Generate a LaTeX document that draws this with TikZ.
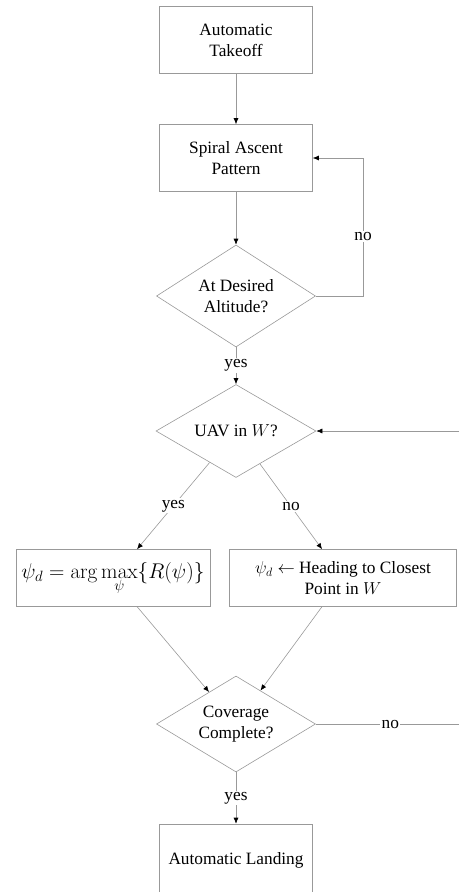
\RequirePackage{fix-cm}
\documentclass[tikz,border=0pt]{standalone}
\usepackage[no-math]{fontspec}
\setmainfont{Liberation Serif}
\usetikzlibrary{shapes.geometric,arrows.meta}
\begin{document}
\begin{tikzpicture}[x=1pt,y=-1pt,
  every node/.style={font=\fontsize{17.3}{21}\selectfont},
  stepbox/.style={draw=black!40,line width=0.6pt,rectangle,align=center,inner sep=0pt},
  decide/.style={draw=black!40,line width=0.6pt,diamond,shape aspect=1.6,align=center,inner sep=0pt},
  conn/.style={draw=black!40,line width=0.6pt,-{Latex[length=6pt,width=5pt,color=black]}},
  plain/.style={draw=black!40,line width=0.6pt},
  lbl/.style={fill=white,inner sep=1.5pt}]
\useasboundingbox (0,0) rectangle (459,892);
\node[stepbox,minimum width=153pt,minimum height=67pt] (t1) at (236,40) {Automatic\\Takeoff};
\node[stepbox,minimum width=153pt,minimum height=67pt] (t2) at (236,158) {Spiral Ascent\\Pattern};
\node[decide,minimum width=159pt,minimum height=102pt] (d1) at (236,296) {At Desired\\Altitude?};
\node[decide,minimum width=160pt,minimum height=93pt] (d2) at (236,431) {UAV in $W$?};
\node[stepbox,minimum width=194pt,minimum height=57pt,font=\fontsize{21.3}{25}\selectfont] (bl) at (113,578) {\raisebox{3pt}{$\displaystyle\psi_d = \arg\max_{\psi}\{R(\psi)\}$}};
\node[stepbox,minimum width=227pt,minimum height=57pt] (br) at (343,578) {$\psi_d \leftarrow$ Heading to Closest\\Point in $W$};
\node[decide,minimum width=159pt,minimum height=96pt] (d3) at (236,724) {Coverage\\Complete?};
\node[stepbox,minimum width=153pt,minimum height=72pt] (t4) at (236,860) {Automatic Landing};
\coordinate (loopA) at (363,296);
\coordinate (loopB) at (363,158);
\coordinate (inR) at (459,431);
\coordinate (outR) at (459,724);
\draw[conn] (t1) -- (t2);
\draw[conn] (t2) -- (d1);
\draw[plain] (d1.east) -- (loopA) -- node[lbl,pos=0.43]{no} (loopB);
\draw[conn] (loopB) -- (t2.east);
\draw[conn] (d1) -- node[lbl]{yes} (d2);
\draw[conn] (inR) -- (d2.east);
\draw[conn] (d2) -- node[lbl]{yes} (bl);
\draw[conn] (d2) -- node[lbl]{no} (br);
\draw[conn] (bl) -- (d3);
\draw[conn] (br) -- (d3);
\draw[plain] (d3.east) -- node[lbl,pos=0.52]{no} (outR);
\draw[conn] (d3) -- node[lbl]{yes} (t4);
\end{tikzpicture}
\end{document}
